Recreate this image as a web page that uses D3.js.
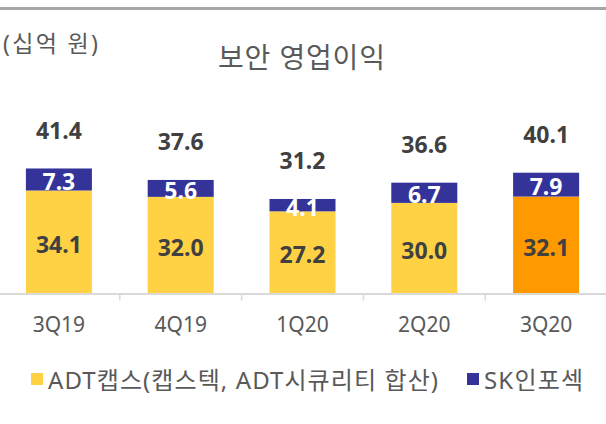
<!DOCTYPE html>
<html>
<head>
<meta charset="utf-8">
<script src="https://cdn.jsdelivr.net/npm/d3@7"></script>
<style>
    body { margin: 0; background: #fff; }
    svg text { font-family: "Noto Sans", "Noto Sans CJK KR", sans-serif; }
</style>
</head>
<body>
<div id="chart"></div>
<script>
// 분기별 보안 영업이익 (십억 원)
const quarters = ['3Q19', '4Q19', '1Q20', '2Q20', '3Q20'];
const adtCaps = [34.1, 32.0, 27.2, 30.0, 32.1];
const skInfosec = [7.3, 5.6, 4.1, 6.7, 7.9];
const totals = [41.4, 37.6, 31.2, 36.6, 40.1];
const seriesNames = ['ADT캡스(캡스텍, ADT시큐리티 합산)', 'SK인포섹'];
const highlightQuarter = '3Q20';

const width = 606, height = 424;
const colors = {
    adt: '#FFD145',
    adtHighlight: '#FF9900',
    sk: '#333399',
    label: '#404040',
    axisText: '#595959',
    axisLine: '#D9D9D9',
    topLine: '#A6A6A6'
};

const svg = d3.select('#chart').append('svg')
    .attr('width', width)
    .attr('height', height);

// 상단 회색 선
svg.append('rect')
    .attr('x', 0).attr('y', 7)
    .attr('width', width).attr('height', 3)
    .attr('fill', colors.topLine);

// 제목과 단위 (원본 글꼴이 더 넓어서 textLength로 맞춤)
svg.append('text')
    .attr('x', 218).attr('y', 68)
    .attr('font-size', '28px')
    .attr('fill', colors.axisText)
    .attr('textLength', 167)
    .attr('lengthAdjust', 'spacing')
    .text('보안 영업이익');

svg.append('text')
    .attr('x', 3).attr('y', 52)
    .attr('font-size', '23px')
    .attr('fill', colors.axisText)
    .attr('textLength', 95)
    .attr('lengthAdjust', 'spacing')
    .text('(십억 원)');

// 스케일
const x = d3.scaleBand()
    .domain(quarters)
    .range([-2, 607])
    .paddingInner(0.458)
    .paddingOuter(0.229);

const baseY = 293.5;
const y = d3.scaleLinear()
    .domain([0, 45])
    .range([baseY, baseY - 45 * 3.02]);

const rows = quarters.map((q, i) => ({ q, adt: adtCaps[i], sk: skInfosec[i], total: totals[i] }));
const stack = d3.stack().keys(['adt', 'sk'])(rows);

// 막대
const layers = svg.append('g').selectAll('g')
    .data(stack)
    .enter()
    .append('g');

layers.selectAll('rect')
    .data(d => d.map(v => ({ key: d.key, v })))
    .enter()
    .append('rect')
    .attr('x', d => x(d.v.data.q))
    .attr('y', d => y(d.v[1]))
    .attr('width', x.bandwidth())
    .attr('height', d => y(d.v[0]) - y(d.v[1]))
    .attr('fill', d => {
        if (d.key === 'sk') return colors.sk;
        return d.v.data.q === highlightQuarter ? colors.adtHighlight : colors.adt;
    });

// 막대 안 값
layers.selectAll('text')
    .data(d => d.map(v => ({ key: d.key, v })))
    .enter()
    .append('text')
    .attr('x', d => x(d.v.data.q) + x.bandwidth() / 2)
    .attr('y', d => (y(d.v[0]) + y(d.v[1])) / 2 + 10.5)
    .attr('text-anchor', 'middle')
    .attr('font-size', '23px')
    .attr('font-weight', 'bold')
    .attr('fill', d => d.key === 'sk' ? '#fff' : colors.label)
    .text(d => d3.format('.1f')(d.v[1] - d.v[0]));

// 합계
svg.append('g').selectAll('text')
    .data(rows)
    .enter()
    .append('text')
    .attr('x', d => x(d.q) + x.bandwidth() / 2)
    .attr('y', d => y(d.adt + d.sk) - 29.5)
    .attr('text-anchor', 'middle')
    .attr('font-size', '23px')
    .attr('font-weight', 'bold')
    .attr('fill', colors.label)
    .text(d => d3.format('.1f')(d.total));

// x축
const axisG = svg.append('g');
axisG.append('line')
    .attr('x1', 0).attr('x2', width)
    .attr('y1', baseY + 0.5).attr('y2', baseY + 0.5)
    .attr('stroke', colors.axisLine)
    .attr('stroke-width', 2);

axisG.selectAll('.tick-mark')
    .data(quarters.slice(1))
    .enter()
    .append('line')
    .attr('class', 'tick-mark')
    .attr('x1', d => x(d) - x.step() * x.paddingInner() / 2)
    .attr('x2', d => x(d) - x.step() * x.paddingInner() / 2)
    .attr('y1', baseY + 1)
    .attr('y2', baseY + 7)
    .attr('stroke', colors.axisLine)
    .attr('stroke-width', 1.5);

axisG.selectAll('.tick-label')
    .data(quarters)
    .enter()
    .append('text')
    .attr('class', 'tick-label')
    .attr('x', d => x(d) + x.bandwidth() / 2)
    .attr('y', 331.5)
    .attr('text-anchor', 'middle')
    .attr('font-size', '21px')
    .attr('fill', colors.axisText)
    .text(d => d);

// 범례
const legend = svg.append('g');
const legendItems = [
    { name: seriesNames[0], color: colors.adt, x: 31, len: 390 },
    { name: seriesNames[1], color: colors.sk, x: 467, len: 99 }
];
legendItems.forEach(item => {
    legend.append('rect')
        .attr('x', item.x).attr('y', 373)
        .attr('width', 12).attr('height', 12)
        .attr('fill', item.color);
    legend.append('text')
        .attr('x', item.x + 17).attr('y', 389)
        .attr('font-size', '24px')
        .attr('fill', colors.axisText)
        .attr('textLength', item.len)
        .attr('lengthAdjust', 'spacing')
        .text(item.name);
});
</script>
</body>
</html>
